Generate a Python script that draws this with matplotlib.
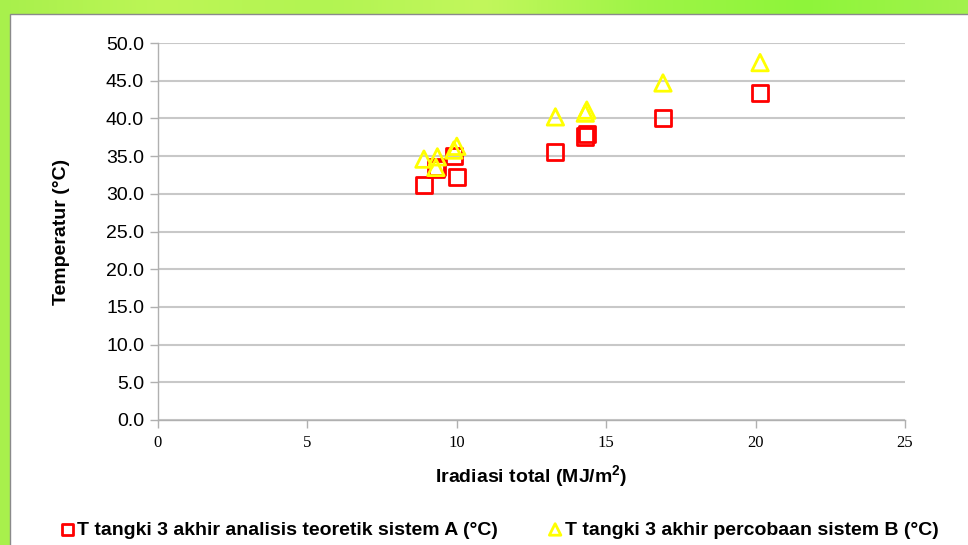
import numpy as np
import matplotlib.pyplot as plt
from matplotlib.patches import Rectangle
from matplotlib.colors import LinearSegmentedColormap

# irradiation (MJ/m2) and end temperature of tank 3 (°C)
irradiasi = [8.9, 9.3, 9.35, 9.9, 10.0, 13.3, 14.3, 14.35, 16.9, 20.15]
temp_a = [31.2, 33.3, 33.6, 35.0, 32.2, 35.5, 37.6, 37.9, 40.0, 43.4]
temp_b = [34.6, 33.5, 34.9, 35.8, 36.3, 40.2, 40.7, 41.1, 44.7, 47.4]

label_a = "T tangki 3 akhir analisis teoretik sistem A (°C)"
label_b = "T tangki 3 akhir percobaan sistem B (°C)"

x_ticks = [0, 5, 10, 15, 20, 25]
y_ticks = np.arange(0, 50.1, 5)

plt.rcParams['font.family'] = ['Liberation Sans', 'DejaVu Sans']
plt.rcParams['mathtext.fontset'] = 'custom'
plt.rcParams['mathtext.bf'] = 'Liberation Sans:bold'
plt.rcParams['mathtext.rm'] = 'Liberation Sans'

fig = plt.figure(figsize=(9.68, 5.45), dpi=100)

# green slide background
bg = fig.add_axes([0, 0, 1, 1], zorder=-10)
greens = LinearSegmentedColormap.from_list(
    "greens", ["#a8f04c", "#bdf656", "#b2f452", "#c2f75c", "#9ef446", "#8ef53a", "#a2f24c"])
grad = np.linspace(0, 1, 256).reshape(1, -1)
bg.imshow(grad, aspect="auto", cmap=greens, extent=[0, 1, 0, 1])
bg.axis("off")

# white panel
fig.patches.append(Rectangle((10 / 968, -0.01), 1, 1 - 14 / 545 + 0.01,
                             transform=fig.transFigure, facecolor="white",
                             edgecolor="#8a8a8a", linewidth=1.0, zorder=-5))

ax = fig.add_axes([158 / 968, 125 / 545, 747 / 968, 377 / 545])
ax.set_facecolor("none")

ax.scatter(irradiasi, temp_a, marker="s", s=135, facecolors="none",
           edgecolors="#ff0000", linewidths=2.0, label=label_a, zorder=3)
ax.scatter(irradiasi, temp_b, marker="^", s=140, facecolors="none",
           edgecolors="#ffff00", linewidths=2.0, label=label_b, zorder=4)

ax.set_xlim(0, 25)
ax.set_ylim(0, 50)
ax.set_xticks(x_ticks)
ax.set_yticks(y_ticks)
ax.set_yticklabels([f"{v:.1f}" for v in y_ticks], fontsize=14)
ax.set_xticklabels([str(v) for v in x_ticks], fontsize=12,
                   fontfamily="Liberation Serif")

ax.grid(axis="y", color="#c8c8c8", linewidth=1.5)
ax.set_axisbelow(True)
for side in ["top", "right"]:
    ax.spines[side].set_visible(False)
for side in ["left", "bottom"]:
    ax.spines[side].set_color("#b0b0b0")
    ax.spines[side].set_linewidth(1.0)
ax.tick_params(axis="both", direction="out", length=6, color="#b0b0b0", width=1.0)
ax.tick_params(axis="y", pad=4)
ax.tick_params(axis="x", pad=5)

ax.set_ylabel("Temperatur (°C)", fontsize=14, fontweight="bold", labelpad=26)
ax.set_xlabel("Iradiasi total (MJ/m$^\\mathbf{2}$)", fontsize=14,
              fontweight="bold", labelpad=9)

fig.legend(loc="center", bbox_to_anchor=(0.516, 0.028), ncol=2, frameon=False,
           prop={"size": 14, "weight": "bold"}, handlelength=0.7,
           handletextpad=0.15, columnspacing=2.6, markerscale=0.7, borderpad=0)

fig.savefig("out.png", dpi=100)
